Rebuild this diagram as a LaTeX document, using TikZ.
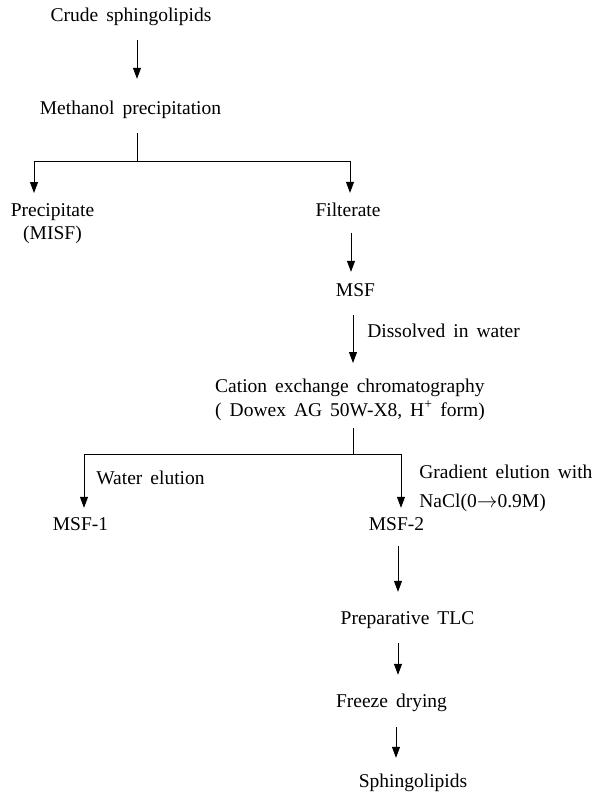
\documentclass[tikz,border=0pt]{standalone}
\usepackage{fontspec}
\setmainfont{Liberation Serif}
\usetikzlibrary{arrows.meta}
\usetikzlibrary{calc}
\newcommand{\flowfont}[1][20]{\fontsize{19.5}{#1}\selectfont\spaceskip=8pt plus 2pt minus 1pt\relax}

\begin{document}
\begin{tikzpicture}[x=1pt,y=-1pt,
	txt/.style={inner sep=0pt,text height=13pt,text depth=4pt,font=\flowfont},
	txtm/.style={inner sep=0pt,font=\flowfont},
	flow/.style={line width=0.8pt,-{Triangle[width=8pt,length=11pt]}},
	branch/.style={line width=0.8pt}
	]
	\useasboundingbox (0,0) rectangle (607,793);
	% steps
	\node[txt] (crude) at (131,17) {Crude sphingolipids};
	\node[txt] (meth) at (130.5,110) {Methanol precipitation};
	\node[txtm,align=center,anchor=north,font={\flowfont[23.5]}] (prec) at (52.5,203) {Precipitate\\(MISF)};
	\node[txt] (filt) at (348,211.5) {Filterate};
	\node[txt] (msf) at (355.5,292) {MSF};
	\node[txtm,align=left,anchor=north west,font={\flowfont[24]}] (cation) at (215,378.5)
		{Cation exchange chromatography\\( Dowex AG 50W-X8, H\textsuperscript{+} form)};
	\node[txt] (msf1) at (80.5,526) {MSF-1};
	\node[txt] (msf2) at (396.5,526) {MSF-2};
	\node[txt] (tlc) at (407.5,620) {Preparative TLC};
	\node[txt] (freeze) at (391.5,703) {Freeze drying};
	\node[txt] (sphingo) at (413,783) {Sphingolipids};
	% branch points
	\coordinate (j1) at (137,161);
	\coordinate (j1l) at (34,161);
	\coordinate (j1r) at (350,161);
	\coordinate (j2) at (353,454);
	\coordinate (j2l) at (84,454);
	\coordinate (j2r) at (401,454);
	% connectors
	\draw[flow] ([xshift=6pt,yshift=-14.5pt]crude.south) -- ([xshift=6.5pt,yshift=22.5pt]meth.north);
	\draw[branch] ([xshift=6.5pt,yshift=-14.5pt]meth.south) -- (j1);
	\draw[branch] (j1l) -- (j1r);
	\draw[flow,shorten >=10pt] (j1l) -- (j1l |- prec.north);
	\draw[flow,shorten >=10pt] (j1r) -- (j1r |- filt.north);
	\draw[flow] ([xshift=3pt,yshift=-13pt]filt.south) -- ([xshift=-4.5pt,yshift=11.5pt]msf.north);
	\draw[flow] ([yshift=-14.5pt]msf.south -| j2) --
		node[txt,pos=0.375,right=14pt] (ldiss) {Dissolved in water}
		([yshift=15.5pt]cation.north -| j2);
	\draw[branch] ([yshift=-7.5pt]cation.south -| j2) -- (j2);
	\draw[branch] (j2l) -- (j2r);
	\draw[flow,shorten >=9.5pt] (j2l) --
		node[txt,pos=0.41,right=12pt] (lwater) {Water elution}
		(j2l |- msf1.north);
	\draw[flow,shorten >=9.5pt] (j2r) --
		node[txtm,align=left,pos=0.54,right=18pt,font={\flowfont[29]}] (lgrad)
		{Gradient elution with\\NaCl(0$\rightarrow$0.9M)}
		(j2r |- msf2.north);
	\draw[flow] ([xshift=1.5pt,yshift=-11.5pt]msf2.south) -- ([xshift=-9.5pt,yshift=19.5pt]tlc.north);
	\draw[flow] ([xshift=-9.5pt,yshift=-14.5pt]tlc.south) -- ([xshift=6.5pt,yshift=19.5pt]freeze.north);
	\draw[flow] ([xshift=4.5pt,yshift=-15.5pt]freeze.south) -- ([xshift=-17pt,yshift=16.5pt]sphingo.north);
\end{tikzpicture}
\end{document}
